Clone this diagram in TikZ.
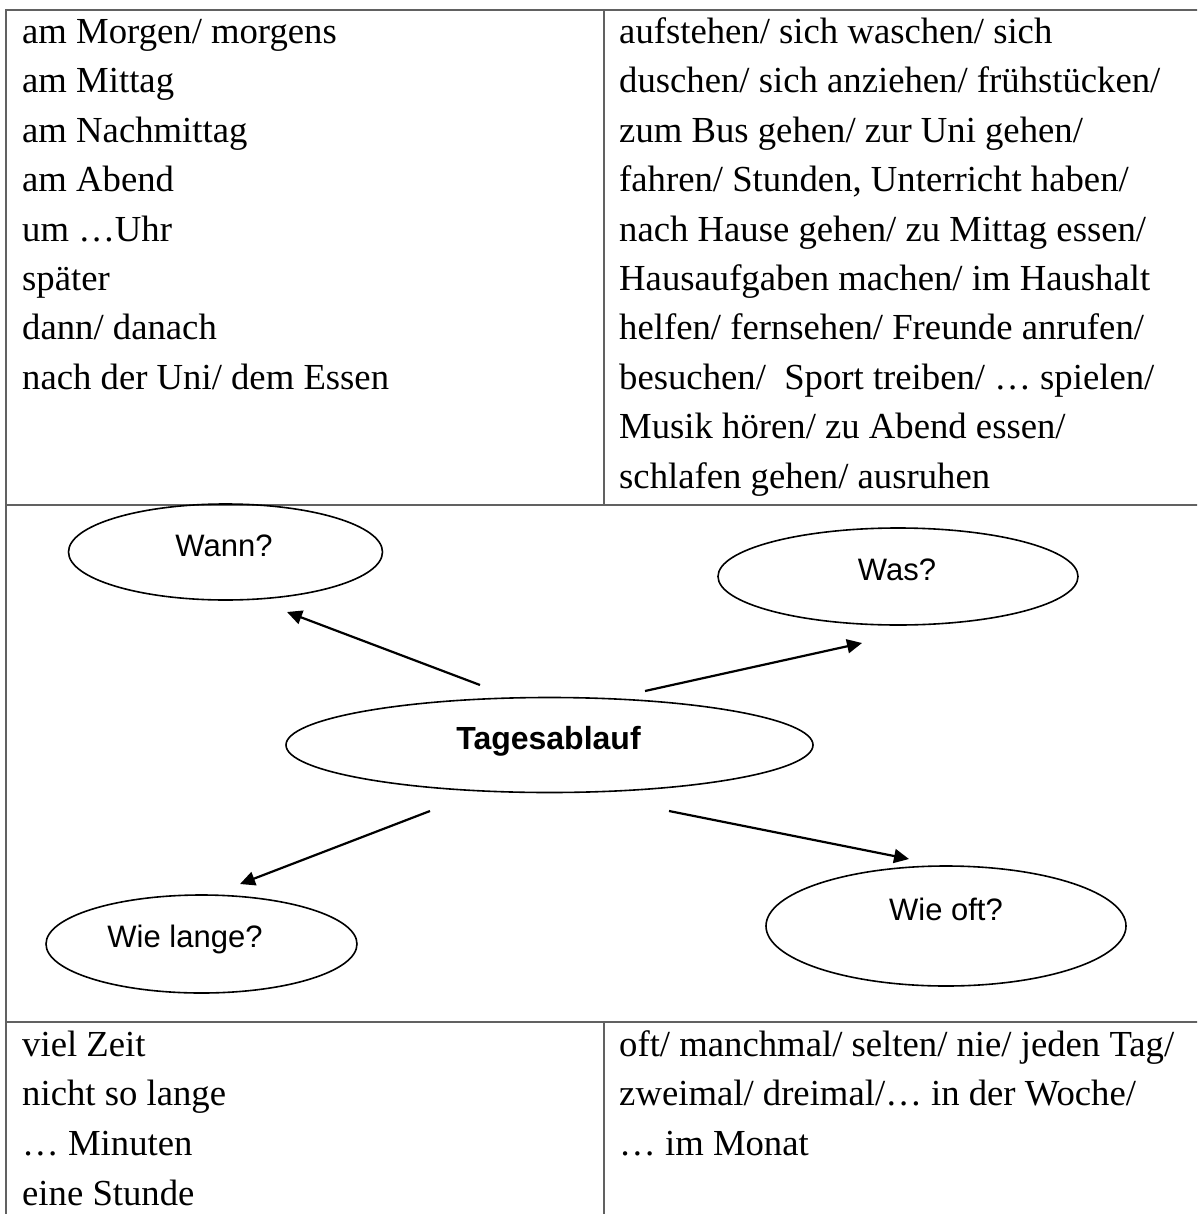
\documentclass[tikz,border=0pt]{standalone}
\usepackage{fontspec}
\setmainfont{Liberation Serif}
\newfontfamily\arialfont{Liberation Sans}
\usetikzlibrary{arrows.meta,shapes.geometric}
\begin{document}
\begin{tikzpicture}[x=1pt,y=-1pt,
  grid/.style={draw=black!62, line width=2pt},
  cell/.style={anchor=base west, inner sep=0pt, font=\fontsize{36.7}{44}\selectfont},
  oval/.style={draw, ellipse, line width=1.6pt, inner sep=0pt},
  qtext/.style={font=\arialfont\fontsize{31}{36}\selectfont, anchor=base, inner sep=0pt},
  conn/.style={line width=2.2pt, -{Triangle[length=15pt,width=14pt]}}]
\useasboundingbox (0,0) rectangle (1197,1214);
\clip (0,0) rectangle (1197,1214);
% table grid
\draw[grid] (6.3,10) -- (1200,10);
\draw[grid] (6.3,9) -- (6.3,1220);
\draw[grid] (6.3,505) -- (1200,505);
\draw[grid] (6.3,1022) -- (1200,1022);
\draw[grid] (604,10) -- (604,505);
\draw[grid] (604,1022) -- (604,1220);
% top left cell
\foreach \t [count=\i from 0] in {{am Morgen/ morgens},{am Mittag},{am Nachmittag},{am Abend},{um …Uhr},{später},{dann/ danach},{nach der Uni/ dem Essen}}
  \node[cell] (tl\i) at (22,{43.5+49.4*\i}) {\t};
% top right cell
\foreach \t [count=\i from 0] in {{aufstehen/ sich waschen/ sich},{duschen/ sich anziehen/ frühstücken/},{zum Bus gehen/ zur Uni gehen/},{fahren/ Stunden, Unterricht haben/},{nach Hause gehen/ zu Mittag essen/},{Hausaufgaben machen/ im Haushalt},{helfen/ fernsehen/ Freunde anrufen/},{besuchen/\ \ Sport treiben/ … spielen/},{Musik hören/ zu Abend essen/},{schlafen gehen/ ausruhen}}
  \node[cell] (tr\i) at (619,{43.5+49.4*\i}) {\t};
% bottom left cell
\foreach \t [count=\i from 0] in {{viel Zeit},{nicht so lange},{… Minuten},{eine Stunde}}
  \node[cell] (bl\i) at (22,{1056+49.9*\i}) {\t};
% bottom right cell
\foreach \t [count=\i from 0] in {{oft/ manchmal/ selten/ nie/ jeden Tag/},{zweimal/ dreimal/… in der Woche/},{… im Monat}}
  \node[cell] (br\i) at (619,{1056+49.9*\i}) {\t};
% ellipses
\node[oval, minimum width=314pt, minimum height=96pt] (wann) at (225.5,552) {};
\node[oval, minimum width=360pt, minimum height=97pt] (was) at (898,576.5) {};
\node[oval, minimum width=527pt, minimum height=95pt] (tag) at (549.5,745) {};
\node[oval, minimum width=311pt, minimum height=98pt] (lange) at (201.5,944) {};
\node[oval, minimum width=360pt, minimum height=120pt] (oft) at (946,926) {};
% texts
\node[qtext] (wannT) at (224,556) {Wann?};
\node[qtext] (wasT) at (897,580) {Was?};
\node[qtext, font=\arialfont\bfseries\fontsize{32}{36}\selectfont] (tagT) at (548.5,749) {Tagesablauf};
\node[qtext] (langeT) at (185,947) {Wie lange?};
\node[qtext] (oftT) at (946,920) {Wie oft?};
% arrows
\coordinate (a1s) at (480,685); \coordinate (a1e) at (287,612);
\coordinate (a2s) at (645,691); \coordinate (a2e) at (862,643);
\coordinate (a3s) at (430,811); \coordinate (a3e) at (240,884);
\coordinate (a4s) at (669,811); \coordinate (a4e) at (909,859);
\draw[conn] (a1s) -- (a1e);
\draw[conn] (a2s) -- (a2e);
\draw[conn] (a3s) -- (a3e);
\draw[conn] (a4s) -- (a4e);
\end{tikzpicture}
\end{document}
